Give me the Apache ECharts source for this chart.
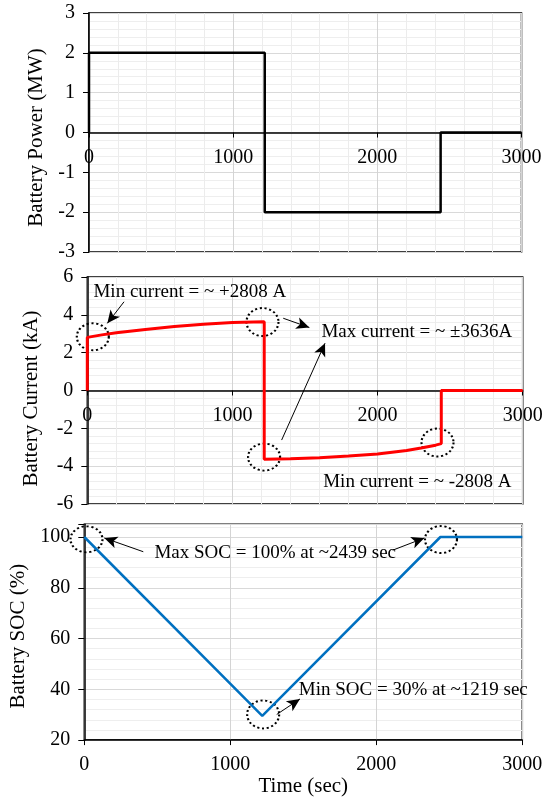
<!DOCTYPE html>
<html>
<head>
<meta charset="utf-8">
<script src="https://cdn.jsdelivr.net/npm/echarts@6/dist/echarts.min.js"></script>
<style>
html,body{margin:0;padding:0;background:#fff;}
#c{width:553px;height:798px;}
</style>
</head>
<body>
<div id="c"></div>
<script>
// ---- data ----
const powerTime = [0, 0, 1219, 1219, 2439, 2439, 3000];
const powerMW   = [0, 2, 2, -2, -2, 0, 0];

const currentTime = [0, 0, 100, 200, 400, 600, 800, 1000, 1219, 1219, 1400, 1600, 1800, 2000, 2200, 2300, 2400, 2439, 2439, 3000];
const currentKA   = [0, 2.808, 2.94, 3.05, 3.22, 3.38, 3.50, 3.59, 3.636, -3.636, -3.61, -3.55, -3.46, -3.36, -3.17, -3.04, -2.89, -2.808, 0, 0];

const socTime = [0, 1219, 2439, 3000];
const socPct  = [100, 29.5, 100, 100];

const xTicks = [0, 1000, 2000, 3000];
const powerTicks = [-3, -2, -1, 0, 1, 2, 3];
const currentTicks = [-6, -4, -2, 0, 2, 4, 6];
const socTicks = [20, 40, 60, 80, 100];

const FONT = 'Liberation Serif';
const zip = (a, b) => a.map((v, i) => [v, b[i]]);

function ellipse(coord, size) {
  return {
    coord: coord, symbol: 'circle', symbolSize: size,
    itemStyle: { color: 'rgba(0,0,0,0)', borderColor: '#000', borderWidth: 2, borderType: [2, 2.5] },
    label: { show: false }
  };
}
function textMark(coord, text) {
  return {
    coord: coord, symbol: 'circle', symbolSize: 1,
    itemStyle: { color: 'rgba(0,0,0,0)' },
    label: { show: true, position: 'right', distance: 0, formatter: text, color: '#000', fontSize: 19, fontFamily: FONT }
  };
}
function arrow(from, to) {
  return [{ coord: from }, { coord: to }];
}
const arrowStyle = {
  silent: true, animation: false,
  symbol: ['none', 'arrow'], symbolSize: [9, 13],
  lineStyle: { color: '#000', width: 1, type: 'solid' },
  label: { show: false }
};

const gridBoxes = [
  { left: 89, right: 31.5, top: 13, height: 239 },
  { left: 87.3, right: 30.3, top: 277, height: 227 },
  { left: 84.3, right: 30.7, top: 524.3, height: 220 }
];
const grids = gridBoxes.map(g => Object.assign({ show: true, borderColor: '#000', borderWidth: 1.5, backgroundColor: 'rgba(0,0,0,0)', containLabel: false }, g));

// distance (px) from the grid bottom up to the value 0 of the y range
function zeroOffset(gi, ymin, ymax) {
  if (ymin >= 0) return 0;
  return -gridBoxes[gi].height * (0 - ymin) / (ymax - ymin);
}

function xAxis(gi, minorV, withName, ymin, ymax) {
  const ax = {
    type: 'value', gridIndex: gi, min: xTicks[0], max: xTicks[xTicks.length - 1], interval: xTicks[1] - xTicks[0],
    position: 'bottom', offset: zeroOffset(gi, ymin, ymax),
    axisLine: { show: true, onZero: false, lineStyle: { color: '#000', width: 1.5 } },
    axisTick: { show: true, length: 5, lineStyle: { color: '#000', width: 1 } },
    axisLabel: { color: '#000', fontSize: 20, fontFamily: FONT, margin: 15, formatter: v => String(v) },
    splitLine: { show: true, lineStyle: { color: '#d4d4d4', width: 1 } },
    minorTick: { show: false, splitNumber: 5 },
    minorSplitLine: { show: minorV, lineStyle: { color: '#ececec', width: 1 } }
  };
  if (withName) {
    ax.name = 'Time (sec)';
    ax.nameLocation = 'middle';
    ax.nameGap = 31;
    ax.nameTextStyle = { color: '#000', fontSize: 21, fontFamily: FONT };
  }
  return ax;
}
function yAxis(gi, ticks, name, gap, shiftPad, max, minorN) {
  return {
    type: 'value', gridIndex: gi, min: ticks[0], max: max, interval: ticks[1] - ticks[0],
    name: name, nameLocation: 'middle', nameGap: gap, nameRotate: 90,
    nameTextStyle: { color: '#000', fontSize: 21, fontFamily: FONT, padding: [0, shiftPad, 0, 0] },
    axisLine: { show: true, lineStyle: { color: '#000', width: 1.5 } },
    axisTick: { show: true, length: 6, lineStyle: { color: '#000', width: 1 } },
    axisLabel: { color: '#000', fontSize: 20, fontFamily: FONT, margin: 14,
      formatter: v => (ticks.indexOf(v) >= 0 ? String(v) : '') },
    splitLine: { show: true, lineStyle: { color: '#d9d9d9', width: 1 } },
    minorTick: { show: false, splitNumber: minorN },
    minorSplitLine: { show: true, lineStyle: { color: '#eeeeee', width: 1 } }
  };
}

const option = {
  animation: false,
  backgroundColor: '#fff',
  grid: grids,
  xAxis: [
    xAxis(0, true, false, powerTicks[0], powerTicks[powerTicks.length - 1]),
    xAxis(1, true, false, currentTicks[0], currentTicks[currentTicks.length - 1]),
    xAxis(2, false, true, socTicks[0], 105)
  ],
  yAxis: [
    yAxis(0, powerTicks, 'Battery Power (MW)', 40, 10, 3, 5),
    yAxis(1, currentTicks, 'Battery Current (kA)', 45, 16, 6, 5),
    yAxis(2, socTicks, 'Battery SOC (%)', 47, 8, 105, 5)
  ],
  series: [
    {
      type: 'line', xAxisIndex: 0, yAxisIndex: 0, data: zip(powerTime, powerMW),
      showSymbol: false, symbol: 'none', lineStyle: { color: '#000', width: 2.5 }, z: 5
    },
    {
      type: 'line', xAxisIndex: 1, yAxisIndex: 1, data: zip(currentTime, currentKA),
      showSymbol: false, symbol: 'none', lineStyle: { color: '#ff0000', width: 3 }, z: 5,
      markPoint: {
        silent: true, animation: false,
        data: [
          ellipse([38, 2.84], [32, 27]),
          ellipse([1207, 3.62], [32, 28]),
          ellipse([1218, -3.52], [32, 27]),
          ellipse([2413, -2.75], [32, 28]),
          textMark([39, 5.22], 'Min current = ~ +2808 A'),
          textMark([1610, 3.11], 'Max current = ~ \u00b13636A'),
          textMark([1622, -4.82], 'Min current = ~ -2808 A')
        ]
      },
      markLine: Object.assign({}, arrowStyle, {
        data: [
          arrow([253, 4.69], [138, 3.55]),
          arrow([1350, 3.82], [1530, 3.33]),
          arrow([1339, -2.62], [1638, 2.50])
        ]
      })
    },
    {
      type: 'line', xAxisIndex: 2, yAxisIndex: 2, data: zip(socTime, socPct),
      showSymbol: false, symbol: 'none', lineStyle: { color: '#0070c0', width: 2.5 }, z: 5,
      markPoint: {
        silent: true, animation: false,
        data: [
          ellipse([15, 99.1], [32, 26]),
          ellipse([2443, 99.0], [32, 27]),
          ellipse([1225, 30.1], [32, 28]),
          textMark([477, 93.8], 'Max SOC = 100% at ~2439 sec'),
          textMark([1466, 39.9], 'Min SOC = 30% at ~1219 sec')
        ]
      },
      markLine: Object.assign({}, arrowStyle, {
        data: [
          arrow([404, 94.2], [137, 99.6]),
          arrow([2112, 94.8], [2329, 99.6]),
          arrow([1318, 30.1], [1477, 36.2])
        ]
      })
    }
  ]
};

const chart = echarts.init(document.getElementById('c'), null, { renderer: 'canvas' });
chart.setOption(option);
</script>
</body>
</html>
